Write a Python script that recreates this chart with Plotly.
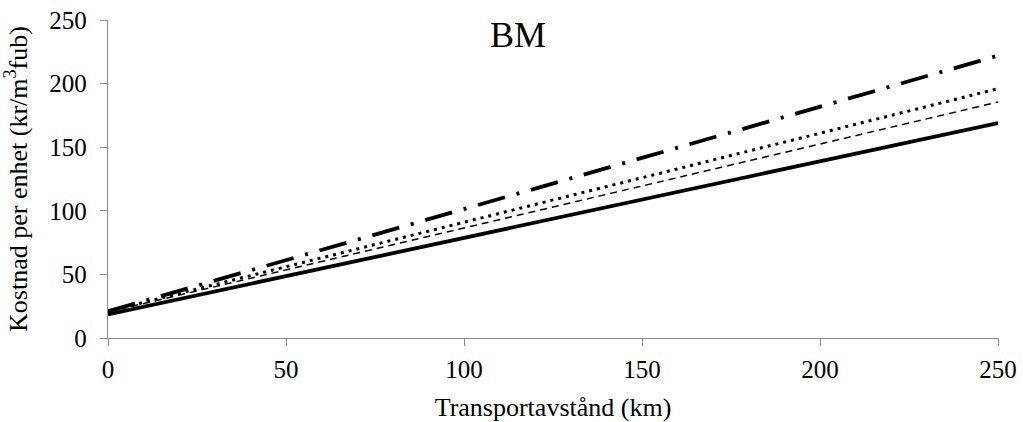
import plotly.graph_objects as go

# Transport distance (km) and unit cost (kr/m³fub) for four alternatives
distance_km = [0, 250]
cost_solid = [18.5, 169]
cost_dashed = [20.5, 185.5]
cost_dotted = [21, 196]
cost_dashdot = [21, 222]

x_ticks = [0, 50, 100, 150, 200, 250]
y_ticks = [0, 50, 100, 150, 200, 250]

fig = go.Figure()
fig.add_trace(go.Scatter(x=distance_km, y=cost_solid, mode="lines",
                         line=dict(color="black", width=3.8, dash="solid")))
fig.add_trace(go.Scatter(x=distance_km, y=cost_dashed, mode="lines",
                         line=dict(color="black", width=1.5, dash="7px,5px")))
fig.add_trace(go.Scatter(x=distance_km, y=cost_dotted, mode="lines",
                         line=dict(color="black", width=3, dash="3px,5px")))
fig.add_trace(go.Scatter(x=distance_km, y=cost_dashdot, mode="lines",
                         line=dict(color="black", width=3.8, dash="28px,12px,3px,12px")))

axis_common = dict(
    showline=True, linecolor="#8c8c8c", linewidth=1.3,
    ticks="outside", ticklen=7, tickcolor="#8c8c8c", tickwidth=1.3,
    showgrid=False, zeroline=False, automargin=False,
    tickfont=dict(family="Liberation Serif", size=25, color="black"),
)

fig.update_layout(
    width=1023, height=422,
    margin=dict(l=108, r=25, t=20, b=84),
    paper_bgcolor="white", plot_bgcolor="white",
    showlegend=False,
    font=dict(family="Liberation Serif", color="black"),
    xaxis=dict(range=[0, 250], tickvals=x_ticks, ticklabelstandoff=2,
               title=dict(text="Transportavstånd (km)", font=dict(size=26), standoff=15),
               **axis_common),
    yaxis=dict(range=[0, 250], tickvals=y_ticks, ticklabelstandoff=8,
               title=dict(text="Kostnad per enhet (kr/m<sup>3</sup>fub)", font=dict(size=26), standoff=15),
               **axis_common),
    annotations=[dict(text="BM", x=0.5, y=0.5, xref="paper", yref="paper",
                      xanchor="center", yanchor="middle", showarrow=False,
                      font=dict(family="Liberation Serif", size=36, color="black"))],
)
# place the panel label in pixel terms relative to the plot area
plot_w = 1023 - 108 - 25
plot_h = 422 - 20 - 84
fig.layout.annotations[0].x = (518 - 108) / plot_w
fig.layout.annotations[0].y = 1 - (35 - 20) / plot_h

fig.write_html("out.html")
